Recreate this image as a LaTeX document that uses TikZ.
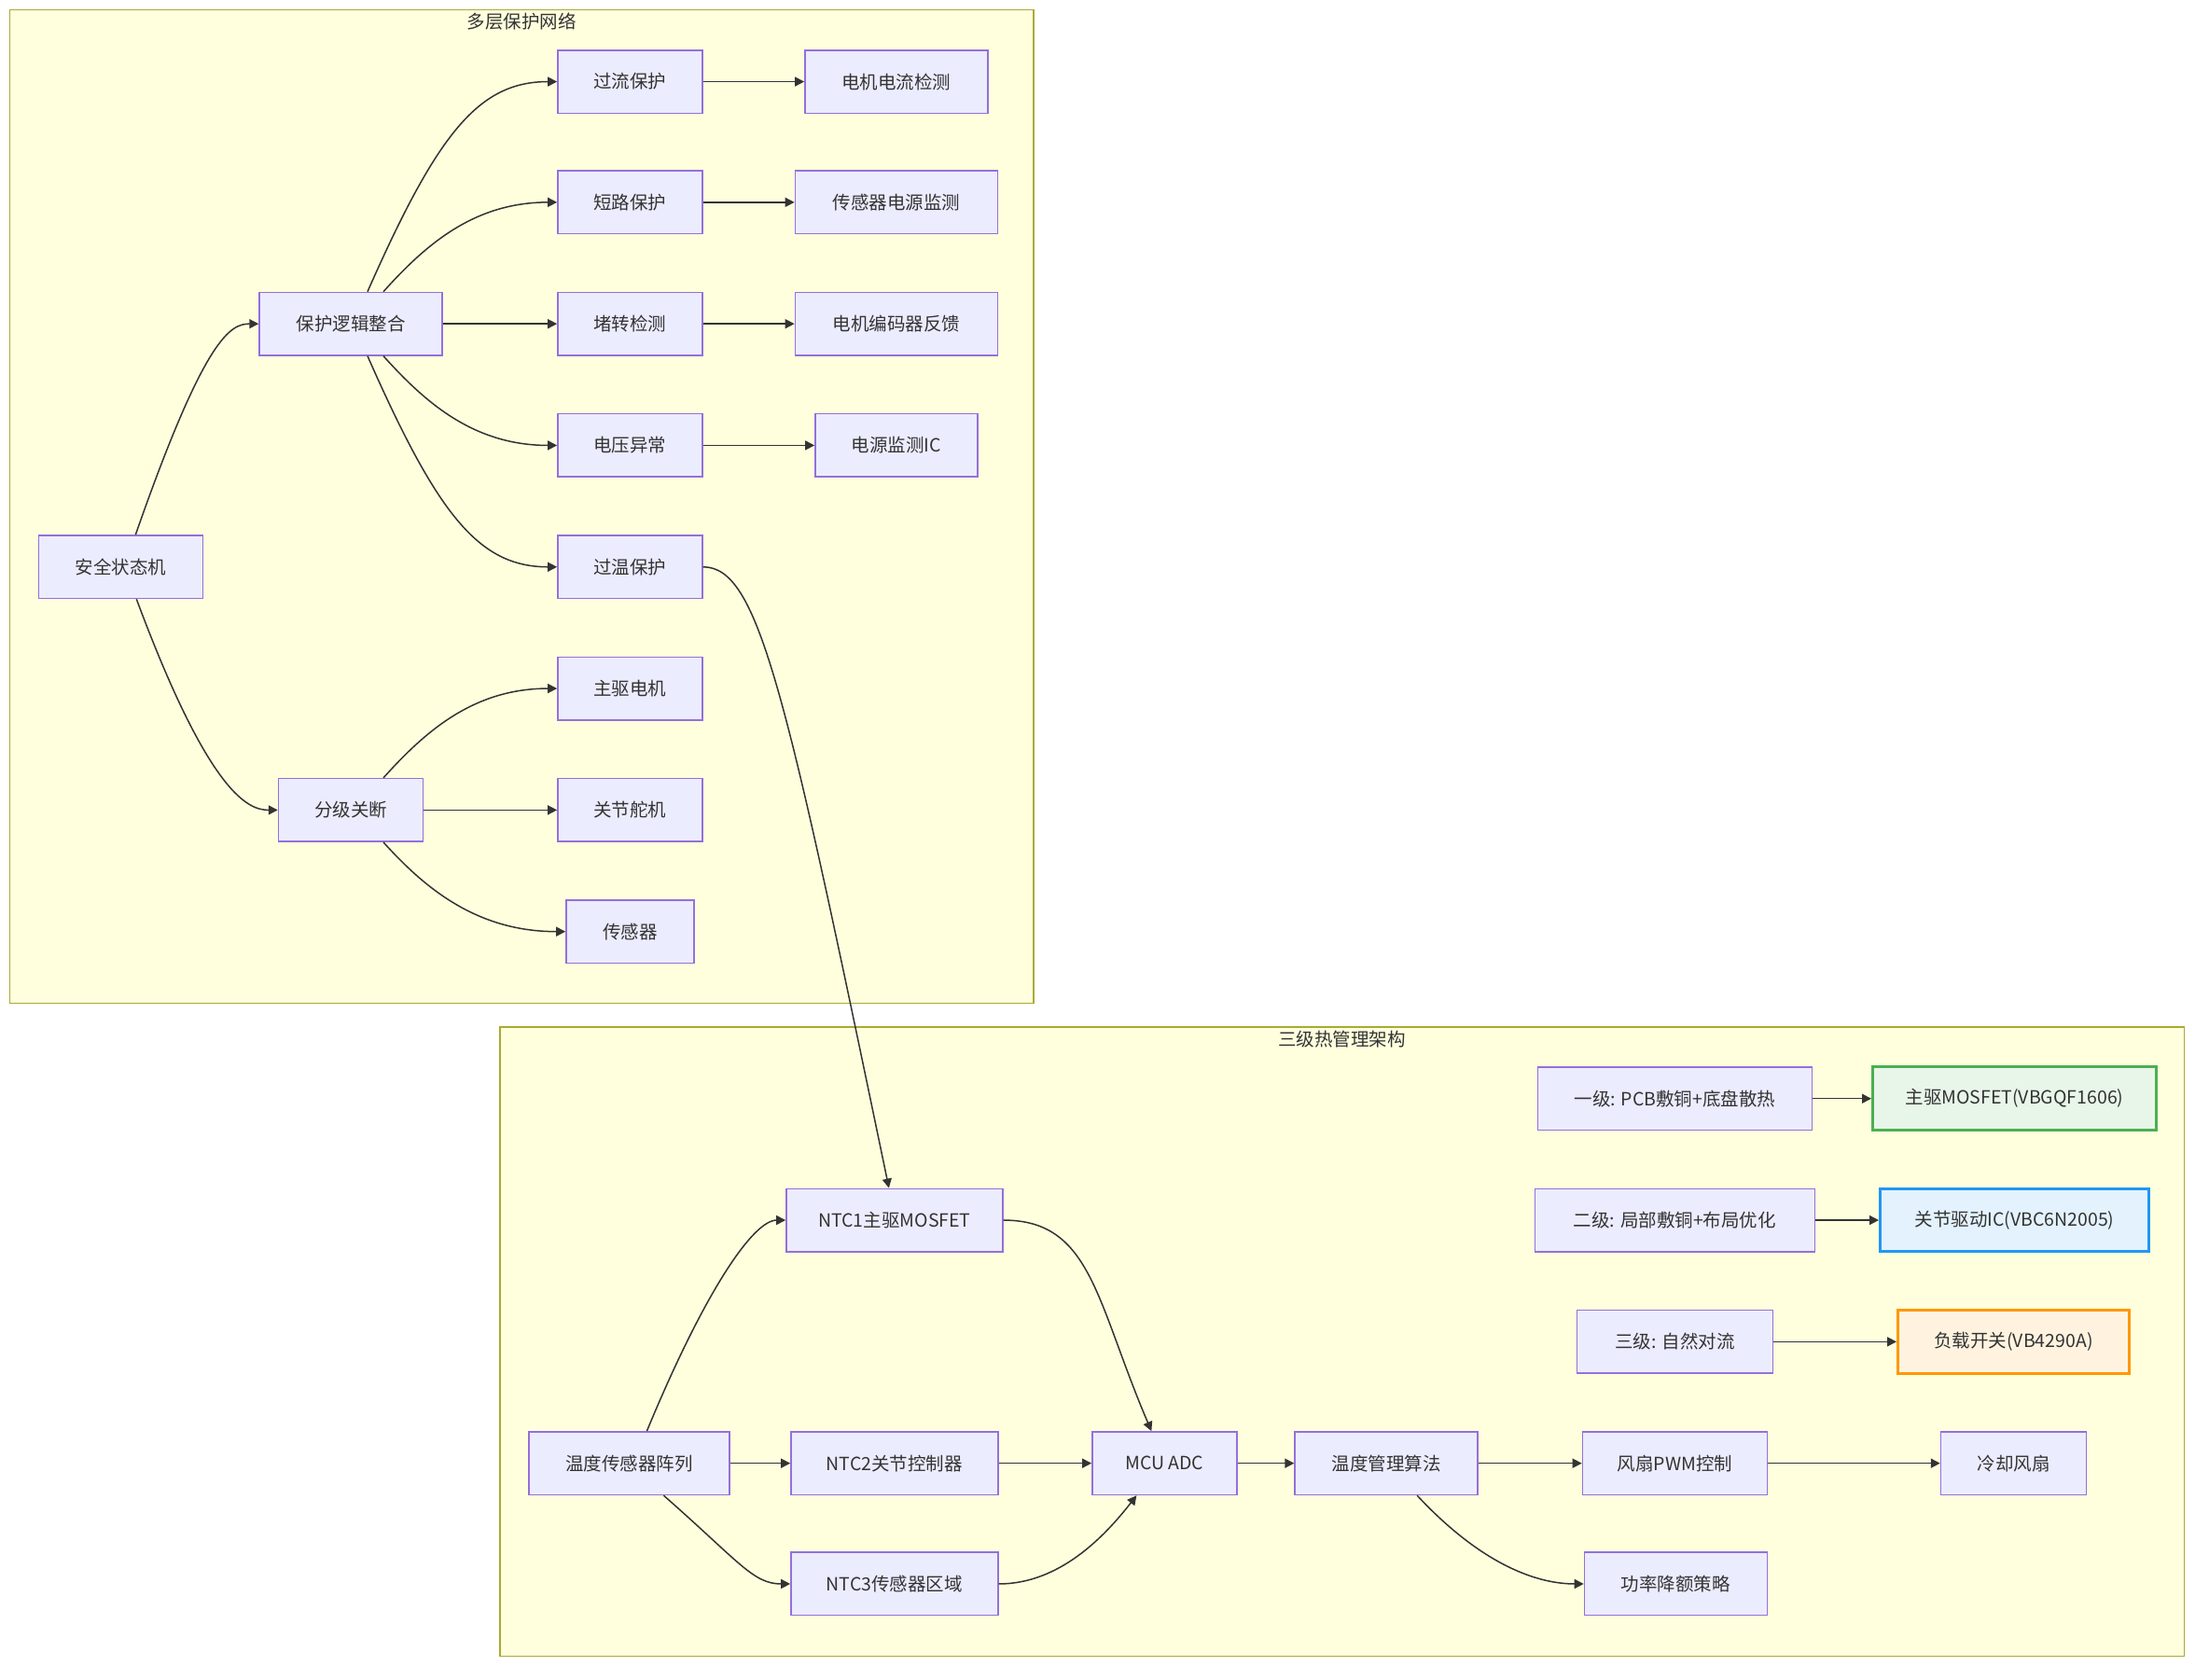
\documentclass[tikz,border=0pt]{standalone}
\usepackage{fontspec}
\usetikzlibrary{arrows.meta}
\newfontfamily\cjk{Noto Sans CJK SC}
\definecolor{nodefill}{HTML}{ECECFF}
\definecolor{nodeline}{HTML}{9370DB}
\definecolor{groupfill}{HTML}{FFFFDE}
\definecolor{groupline}{HTML}{AAAA33}
\definecolor{edgecol}{HTML}{333333}
\definecolor{textcol}{HTML}{333333}
\definecolor{greenfill}{HTML}{E8F5E9}
\definecolor{greenline}{HTML}{4CAF50}
\definecolor{bluefill}{HTML}{E3F2FD}
\definecolor{blueline}{HTML}{2196F3}
\definecolor{orangefill}{HTML}{FFF3E0}
\definecolor{orangeline}{HTML}{FF9800}

\begin{document}
\begin{tikzpicture}[x=0.9947pt,y=-0.9947pt]
\tikzstyle{every node}+=[inner sep=0pt]
\tikzstyle{box}=[draw=nodeline, fill=nodefill, line width=1.5pt, minimum height=67.5pt, text=textcol, font=\cjk\fontsize{19.5}{23}\selectfont]
\tikzstyle{greenbox}=[box, draw=greenline, fill=greenfill, line width=3pt]
\tikzstyle{bluebox}=[box, draw=blueline, fill=bluefill, line width=3pt]
\tikzstyle{orangebox}=[box, draw=orangeline, fill=orangefill, line width=3pt]
\tikzstyle{group}=[draw=groupline, fill=groupfill, line width=1.5pt]
\tikzstyle{title}=[text=textcol, font=\cjk\fontsize{19.5}{23}\selectfont]
\tikzstyle{flow}=[draw=edgecol, line width=1.5pt, -{Triangle[length=10pt,width=10pt]}]
\useasboundingbox (0,0) rectangle (2380.6,1809.6);
\fill [white] (0,0) rectangle (2380.6,1809.6);
% clusters
\draw [group] (10.5,10.5) rectangle (1114,1081);
\node [title] (nettitle) at (562,23) {多层保护网络};
\draw [group] (539,1107) rectangle (2354,1785);
\node [title] (heattitle) at (1446,1120) {三级热管理架构};
% protection network
\node [box, minimum width=176pt] (safe) at (130,611) {安全状态机};
\node [box, minimum width=196pt] (logic) at (378,349) {保护逻辑整合};
\node [box, minimum width=155pt] (cut) at (378,873) {分级关断};
\node [box, minimum width=155pt] (oc) at (679,88) {过流保护};
\node [box, minimum width=155pt] (sc) at (679,218) {短路保护};
\node [box, minimum width=155pt] (stall) at (679,349) {堵转检测};
\node [box, minimum width=155pt] (uv) at (679,480) {电压异常};
\node [box, minimum width=155pt] (ot) at (679,611) {过温保护};
\node [box, minimum width=155pt] (mmot) at (679,742) {主驱电机};
\node [box, minimum width=155pt] (servo) at (679,873) {关节舵机};
\node [box, minimum width=137pt] (sens) at (679,1004) {传感器};
\node [box, minimum width=196pt] (curdet) at (966,88) {电机电流检测};
\node [box, minimum width=217pt] (sensmon) at (966,218) {传感器电源监测};
\node [box, minimum width=217pt] (enc) at (966,349) {电机编码器反馈};
\node [box, minimum width=174pt] (pmic) at (966,480) {电源监测IC};
% thermal management
\node [box, minimum width=215pt] (tarr) at (678,1577) {温度传感器阵列};
\node [box, minimum width=232pt] (ntca) at (964,1315) {NTC1主驱MOSFET};
\node [box, minimum width=222pt] (ntcb) at (964,1577) {NTC2关节控制器};
\node [box, minimum width=222pt] (ntcc) at (964,1707) {NTC3传感器区域};
\node [box, minimum width=155pt] (adc) at (1255,1577) {MCU ADC};
\node [box, minimum width=196pt] (algo) at (1494,1577) {温度管理算法};
\node [box, minimum width=198pt] (pwm) at (1805,1577) {风扇PWM控制};
\node [box, minimum width=196pt] (derate) at (1806,1707) {功率降额策略};
\node [box, minimum width=156pt] (fan) at (2170,1577) {冷却风扇};
\node [box, minimum width=294pt] (lvla) at (1805,1184) {一级: PCB敷铜+底盘散热};
\node [box, minimum width=300pt] (lvlb) at (1805,1315) {二级: 局部敷铜+布局优化};
\node [box, minimum width=210pt] (lvlc) at (1805,1446) {三级: 自然对流};
\node [greenbox, minimum width=304pt] (mosa) at (2171,1184) {主驱MOSFET(VBGQF1606)};
\node [bluebox, minimum width=288pt] (drvb) at (2171,1315) {关节驱动IC(VBC6N2005)};
\node [orangebox, minimum width=248pt] (swc) at (2170,1446) {负载开关(VB4290A)};
% edges
\draw [flow] ([xshift=16pt]safe.north) .. controls +(75,-215) and +(-30,0) .. (logic.west);
\draw [flow] ([xshift=17pt]safe.south) .. controls +(80,215) and +(-30,0) .. (cut.west);
\draw [flow] ([xshift=18pt]logic.north) .. controls +(75,-170) and +(-85,0) .. (oc.west);
\draw [flow] ([xshift=35pt]logic.north) .. controls +(45,-50) and +(-90,0) .. (sc.west);
\draw [flow] (logic.east) -- (stall.west);
\draw [flow] ([xshift=35pt]logic.south) .. controls +(45,50) and +(-90,0) .. (uv.west);
\draw [flow] ([xshift=18pt]logic.south) .. controls +(75,170) and +(-85,0) .. (ot.west);
\draw [flow] ([xshift=35pt]cut.north) .. controls +(45,-50) and +(-90,0) .. (mmot.west);
\draw [flow] (cut.east) -- (servo.west);
\draw [flow] ([xshift=35pt]cut.south) .. controls +(45,50) and +(-95,0) .. (sens.west);
\draw [flow] (oc.east) -- (curdet.west);
\draw [flow] (sc.east) -- (sensmon.west);
\draw [flow] (stall.east) -- (enc.west);
\draw [flow] (uv.east) -- (pmic.west);
\draw [flow] (ot.east) .. controls +(60,0) and +(-112,-538) .. ([xshift=-6pt]ntca.north);
\draw [flow] ([xshift=19pt]tarr.north) .. controls +(62,-150) and +(-35,0) .. (ntca.west);
\draw [flow] (tarr.east) -- (ntcb.west);
\draw [flow] ([xshift=37pt]tarr.south) .. controls +(82,72) and +(-40,0) .. (ntcc.west);
\draw [flow] (ntca.east) .. controls +(95,0) and +(-60,-140) .. ([xshift=-14pt]adc.north);
\draw [flow] (ntcb.east) -- (adc.west);
\draw [flow] (ntcc.east) .. controls +(65,0) and +(-35,45) .. ([xshift=-30pt]adc.south);
\draw [flow] (adc.east) -- (algo.west);
\draw [flow] (algo.east) -- (pwm.west);
\draw [flow] ([xshift=33pt]algo.south) .. controls +(70,75) and +(-50,0) .. (derate.west);
\draw [flow] (pwm.east) -- (fan.west);
\draw [flow] (lvla.east) -- (mosa.west);
\draw [flow] (lvlb.east) -- (drvb.west);
\draw [flow] (lvlc.east) -- (swc.west);
\end{tikzpicture}
\end{document}
